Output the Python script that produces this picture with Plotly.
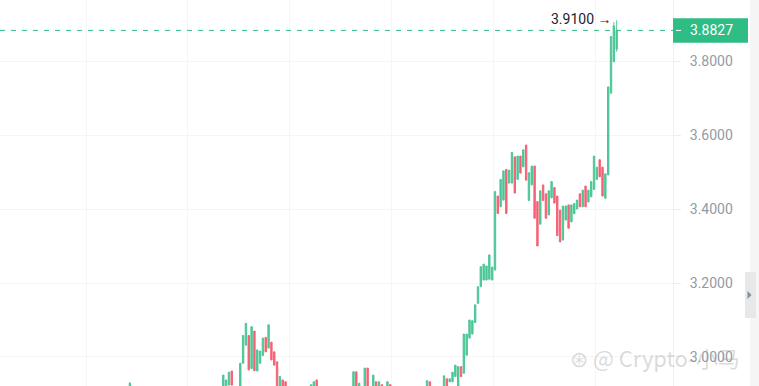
import plotly.graph_objects as go

GREEN = "#2EBD85"
RED = "#F6465D"

# candle index (time slot); slots hidden below the view are omitted
idx = [0,
       33, 34, 35, 36, 39, 40, 41, 42, 43, 44, 45, 46, 47, 48, 49, 50, 51, 52, 53, 54, 55,
       64, 65, 66, 79, 80, 81, 83, 84, 86, 87, 88, 89, 91, 92, 105, 106,
       111, 112, 113, 114, 115, 116, 117, 118, 119, 120, 121, 122, 123, 124, 125, 126, 127, 128,
       129, 130, 131, 132, 133, 134, 135, 136, 137, 138, 139, 140, 141, 142, 143, 144, 145, 146,
       147, 148, 149, 150, 151, 152, 153, 154, 155, 156, 157, 158, 159, 160, 161, 162, 163, 164,
       165, 166, 167, 168, 169, 170, 171, 172]

opens = [2.905,
         2.910, 2.915, 2.924, 2.962, 2.910, 2.983, 3.032, 3.058, 2.969, 3.070, 2.962, 2.983, 3.004, 3.053, 3.024, 3.040, 3.014, 2.987, 2.910, 2.938, 2.933,
         2.900, 2.905, 2.938, 2.905, 2.960, 2.905, 2.905, 2.970, 2.900, 2.933, 2.900, 2.925, 2.900, 2.925, 2.905, 2.933,
         2.905, 2.941, 2.933, 2.933, 2.947, 2.915, 2.974, 2.956, 3.005, 3.051, 3.062, 3.093, 3.145, 3.190, 3.208, 3.208, 3.210, 3.208,
         3.235, 3.435, 3.406, 3.424, 3.507, 3.470, 3.470, 3.541, 3.480, 3.543, 3.514, 3.573, 3.423, 3.465, 3.516, 3.420, 3.359, 3.465,
         3.441, 3.384, 3.430, 3.458, 3.435, 3.397, 3.316, 3.370, 3.411, 3.365, 3.387, 3.400, 3.441, 3.406, 3.462, 3.419, 3.433, 3.453,
         3.480, 3.533, 3.513, 3.429, 3.492, 3.713, 3.798, 3.832]

closes = [2.930,
          2.951, 2.938, 2.959, 2.924, 2.983, 3.058, 3.091, 2.965, 3.082, 2.963, 3.019, 3.016, 3.051, 3.014, 3.087, 2.992, 2.978, 2.910, 2.947, 2.910, 2.905,
          2.925, 2.933, 2.905, 2.960, 2.905, 2.929, 2.970, 2.905, 2.951, 2.900, 2.933, 2.900, 2.933, 2.900, 2.936, 2.905,
          2.949, 2.910, 2.941, 2.959, 2.978, 2.974, 2.947, 3.062, 3.062, 3.100, 3.098, 3.141, 3.190, 3.244, 3.251, 3.246, 3.276, 3.243,
          3.447, 3.388, 3.480, 3.503, 3.388, 3.505, 3.553, 3.443, 3.543, 3.497, 3.560, 3.478, 3.498, 3.516, 3.375, 3.300, 3.449, 3.423,
          3.375, 3.449, 3.474, 3.416, 3.328, 3.311, 3.408, 3.408, 3.348, 3.411, 3.415, 3.424, 3.406, 3.451, 3.406, 3.451, 3.474, 3.543,
          3.513, 3.487, 3.435, 3.495, 3.730, 3.866, 3.895, 3.8827]

highs = [2.930,
         2.951, 2.938, 2.959, 2.962, 2.983, 3.058, 3.091, 3.058, 3.082, 3.070, 3.019, 3.016, 3.051, 3.053, 3.087, 3.040, 3.014, 2.987, 2.947, 2.938, 2.933,
         2.925, 2.933, 2.938, 2.960, 2.960, 2.929, 2.970, 2.970, 2.951, 2.933, 2.933, 2.925, 2.933, 2.925, 2.936, 2.933,
         2.949, 2.941, 2.941, 2.959, 2.978, 2.974, 2.974, 3.062, 3.062, 3.100, 3.098, 3.141, 3.190, 3.244, 3.251, 3.246, 3.276, 3.243,
         3.447, 3.435, 3.480, 3.503, 3.507, 3.505, 3.553, 3.541, 3.543, 3.543, 3.560, 3.573, 3.498, 3.516, 3.516, 3.420, 3.449, 3.465,
         3.441, 3.449, 3.474, 3.458, 3.435, 3.397, 3.408, 3.408, 3.411, 3.411, 3.415, 3.424, 3.441, 3.451, 3.462, 3.451, 3.474, 3.543,
         3.513, 3.533, 3.513, 3.495, 3.730, 3.866, 3.905, 3.910]

lows = [2.905,
        2.910, 2.915, 2.924, 2.924, 2.910, 2.983, 3.032, 2.965, 2.969, 2.963, 2.962, 2.983, 3.004, 3.014, 3.024, 2.992, 2.978, 2.910, 2.910, 2.910, 2.905,
        2.900, 2.905, 2.905, 2.905, 2.905, 2.905, 2.905, 2.905, 2.900, 2.900, 2.900, 2.900, 2.900, 2.900, 2.905, 2.905,
        2.905, 2.910, 2.933, 2.933, 2.947, 2.915, 2.947, 2.956, 3.005, 3.051, 3.062, 3.093, 3.145, 3.190, 3.208, 3.208, 3.210, 3.208,
        3.235, 3.388, 3.406, 3.424, 3.388, 3.470, 3.470, 3.443, 3.480, 3.497, 3.514, 3.478, 3.423, 3.465, 3.375, 3.300, 3.359, 3.423,
        3.375, 3.384, 3.430, 3.416, 3.328, 3.311, 3.316, 3.370, 3.348, 3.365, 3.387, 3.400, 3.406, 3.406, 3.406, 3.419, 3.433, 3.453,
        3.480, 3.487, 3.435, 3.429, 3.492, 3.713, 3.798, 3.825]

price_ticks = [3.0, 3.2, 3.4, 3.6, 3.8]
price_labels = ["3.0000", "3.2000", "3.4000", "3.6000", "3.8000"]
time_grid = [-15.5, 20.5, 56.5, 92.5, 128.5, 164.5]

last_price = 3.8827
last_label = "3.8827"
high_idx = 171
high_label = "3.9100 →"

fig = go.Figure(go.Candlestick(
    x=idx, open=opens, high=highs, low=lows, close=closes,
    increasing=dict(line=dict(color=GREEN, width=1), fillcolor=GREEN),
    decreasing=dict(line=dict(color=RED, width=1), fillcolor=RED),
    whiskerwidth=0, hoverinfo="skip", showlegend=False,
    opacity=0.85,
))

PW = 673.0  # plot width in px
def px(x):
    return x / PW
def py(y):
    return 1 - y / 386.0

fig.update_layout(
    width=759, height=386,
    margin=dict(l=0, r=86, t=0, b=0),
    paper_bgcolor="white", plot_bgcolor="white",
    showlegend=False,
    boxgap=0.3,
    xaxis=dict(range=[-45.9, 191.9], rangeslider=dict(visible=False),
               tickvals=time_grid, showticklabels=False, ticks="",
               showgrid=True, gridcolor="#F5F5F5", gridwidth=1,
               zeroline=False, showline=False, fixedrange=True),
    yaxis=dict(side="right", range=[2.9216, 3.9649],
               tickvals=price_ticks, ticktext=price_labels,
               tickfont=dict(family="Roboto", size=14, color="#929AA5"),
               ticks="outside", ticklen=7, tickcolor="#EEEEEE",
               ticklabelstandoff=6,
               showgrid=True, gridcolor="#F5F5F5", gridwidth=1,
               showline=True, linecolor="#F0F0F0", linewidth=1,
               zeroline=False, fixedrange=True, automargin=False),
    shapes=[
        dict(type="line", xref="paper", yref="y", x0=0, x1=1, y0=last_price, y1=last_price,
             line=dict(color=GREEN, width=1, dash="5px,6px")),
        dict(type="rect", xref="paper", yref="y", x0=1.0, x1=px(748), y0=3.8495, y1=3.9154,
             fillcolor=GREEN, line=dict(width=0)),
        dict(type="line", xref="paper", yref="y", x0=px(676), x1=px(681), y0=last_price, y1=last_price,
             line=dict(color="white", width=1)),
        dict(type="rect", xref="paper", yref="paper", x0=px(750), x1=px(759), y0=0, y1=1,
             fillcolor="#F5F5F5", line=dict(width=0), layer="above"),
        dict(type="rect", xref="paper", yref="paper", x0=px(745), x1=px(756), y0=py(318), y1=py(272),
             fillcolor="#E6E8EA", line=dict(width=0), layer="above"),
        dict(type="path", xref="paper", yref="paper",
             path=f"M {px(747.5)} {py(291)} L {px(747.5)} {py(299)} L {px(751.5)} {py(295)} Z",
             fillcolor="#848E9C", line=dict(width=0), layer="above"),
    ],
    annotations=[
        dict(x=px(688), y=last_price, xref="paper", yref="y", text=last_label,
             showarrow=False, xanchor="left", yanchor="middle",
             font=dict(family="Roboto", size=14, color="white")),
        dict(x=high_idx, y=3.9135, xref="x", yref="y", text=high_label,
             showarrow=False, xanchor="right", yanchor="middle", xshift=0,
             font=dict(family="Roboto", size=14, color="#1E2329")),
        dict(x=px(655), y=py(357), xref="paper", yref="paper", text="⊛ @ Crypto-小马",
             showarrow=False, xanchor="center", yanchor="middle",
             font=dict(family="Noto Sans CJK SC", size=22, color="rgba(150,150,150,0.35)")),
    ],
)

fig.write_html("out.html",
               config={"displayModeBar": False},
               post_script="document.body.style.margin='0';document.body.style.padding='0';")
